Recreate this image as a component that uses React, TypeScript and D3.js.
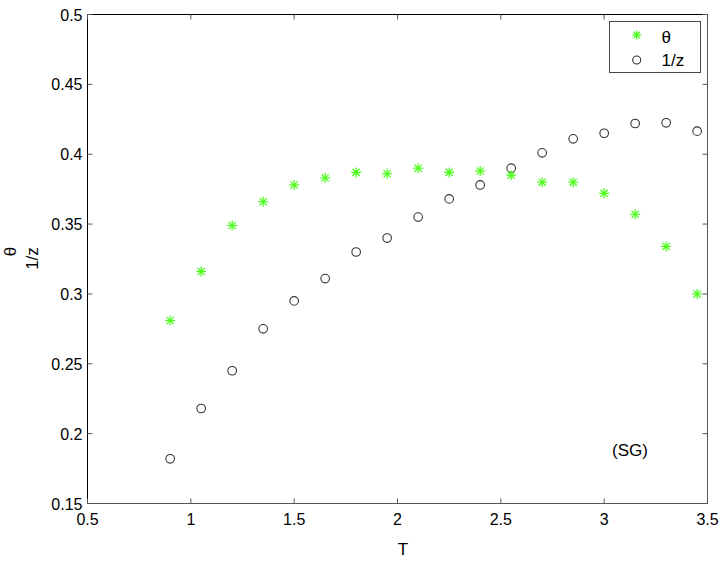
import React from "react";
import * as d3 from "d3";

// temperature grid
const temps = [0.9, 1.05, 1.2, 1.35, 1.5, 1.65, 1.8, 1.95, 2.1, 2.25, 2.4, 2.55, 2.7, 2.85, 3.0, 3.15, 3.3, 3.45];
// theta exponent (green asterisks)
const theta = [0.281, 0.316, 0.349, 0.366, 0.378, 0.383, 0.387, 0.386, 0.39, 0.387, 0.388, 0.385, 0.38, 0.38, 0.372, 0.357, 0.334, 0.3];
// 1/z (open circles)
const invZ = [0.182, 0.218, 0.245, 0.275, 0.295, 0.311, 0.33, 0.34, 0.355, 0.368, 0.378, 0.39, 0.401, 0.411, 0.415, 0.422, 0.4225, 0.4165];

const xTicks = [0.5, 1, 1.5, 2, 2.5, 3, 3.5];
const yTicks = [0.15, 0.2, 0.25, 0.3, 0.35, 0.4, 0.45, 0.5];

const W = 724;
const H = 570;
const plot = { left: 87.5, right: 707.5, top: 14.5, bottom: 503.5 };
const green = "#44ff11";
const font = "'Liberation Sans', Arial, Helvetica, sans-serif";

function Star({ x, y, s = 5 }: { x: number; y: number; s?: number }) {
  const d = s * 0.72;
  return (
    <g stroke={green} strokeWidth={1.2}>
      <line x1={x - s} y1={y} x2={x + s} y2={y} />
      <line x1={x} y1={y - s} x2={x} y2={y + s} />
      <line x1={x - d} y1={y - d} x2={x + d} y2={y + d} />
      <line x1={x - d} y1={y + d} x2={x + d} y2={y - d} />
    </g>
  );
}

export default function App() {
  const x = d3.scaleLinear().domain([0.5, 3.5]).range([plot.left, plot.right]);
  const y = d3.scaleLinear().domain([0.15, 0.5]).range([plot.bottom, plot.top]);
  const tk = 5;
  const fmt = (v: number) => String(+v.toFixed(2));

  return (
    <div style={{ position: "absolute", left: 0, top: 0 }}>
      <svg width={W} height={H} style={{ display: "block", background: "#fff" }} fontFamily={font}>
        {/* box */}
        <line x1={plot.left} y1={plot.top} x2={plot.right} y2={plot.top} stroke="#000" />
        <line x1={plot.left} y1={plot.top} x2={plot.left} y2={plot.bottom} stroke="#000" />
        <line x1={plot.left} y1={plot.bottom} x2={plot.right} y2={plot.bottom} stroke="#555" />
        <line x1={plot.right} y1={plot.top} x2={plot.right} y2={plot.bottom} stroke="#555" />

        {/* x ticks */}
        {xTicks.map((t) => (
          <g key={"x" + t}>
            <line x1={x(t)} x2={x(t)} y1={plot.bottom} y2={plot.bottom - tk} stroke="#555" />
            <line x1={x(t)} x2={x(t)} y1={plot.top} y2={plot.top + tk} stroke="#555" />
            <text x={x(t)} y={plot.bottom + 21} fontSize={16} textAnchor="middle" fill="#000">
              {fmt(t)}
            </text>
          </g>
        ))}

        {/* y ticks */}
        {yTicks.map((t) => (
          <g key={"y" + t}>
            <line x1={plot.left} x2={plot.left + tk} y1={y(t)} y2={y(t)} stroke="#555" />
            <line x1={plot.right} x2={plot.right - tk} y1={y(t)} y2={y(t)} stroke="#555" />
            <text x={plot.left - 5} y={y(t) + 6} fontSize={16} textAnchor="end" fill="#000">
              {fmt(t)}
            </text>
          </g>
        ))}

        {/* 1/z */}
        {temps.map((t, i) => (
          <circle key={"c" + i} cx={x(t)} cy={y(invZ[i])} r={4.3} fill="none" stroke="#333" strokeWidth={1.1} />
        ))}
        {/* theta */}
        {temps.map((t, i) => (
          <Star key={"s" + i} x={x(t)} y={y(theta[i])} />
        ))}

        {/* labels */}
        <text x={403} y={555} fontSize={17} textAnchor="middle" fill="#000">T</text>
        <text transform="translate(16,251.5) rotate(-90)" fontSize={17} textAnchor="middle" fill="#000">θ</text>
        <text transform="translate(37.5,258.5) rotate(-90)" fontSize={17} textAnchor="middle" fill="#000">1/z</text>
        <text x={612} y={456} fontSize={17} fill="#000">(SG)</text>

        {/* legend */}
        <rect x={609.5} y={21.5} width={91} height={51} fill="#fff" stroke="#444" />
        <Star x={636.7} y={35} s={4.5} />
        <circle cx={636.7} cy={60} r={4} fill="none" stroke="#333" strokeWidth={1.1} />
        <text x={661.5} y={43} fontSize={17} fill="#000">θ</text>
        <text x={661.5} y={66} fontSize={17} fill="#000">1/z</text>
      </svg>
    </div>
  );
}
